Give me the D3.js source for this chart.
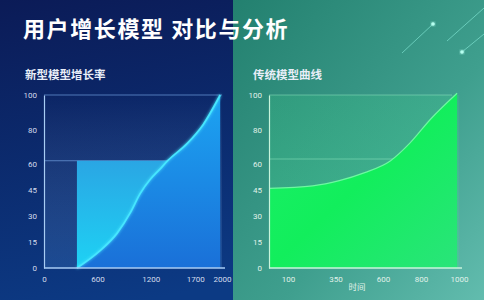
<!DOCTYPE html>
<html>
<head>
<meta charset="utf-8">
<script src="https://cdn.jsdelivr.net/npm/d3@7"></script>
<style>
  html, body { margin: 0; padding: 0; background: #0b2566; }
  svg { display: block; }
  .tick text { font-family: Roboto, "Noto Sans", sans-serif; }
</style>
</head>
<body>
<div id="chart"></div>
<script>
// ---- data ----
const title = "用户增长模型 对比与分析";
const leftSubtitle = "新型模型增长率";
const rightSubtitle = "传统模型曲线";
const rightXTitle = "时间";

const yTicks = [0, 15, 30, 45, 60, 80, 100];
const leftXTicks = [0, 600, 1200, 1700, 2000];
const rightXTicks = [100, 350, 600, 800, 1000];

const leftX = [370, 630, 820, 970, 1080, 1190, 1300, 1390, 1610, 1790, 1980];
const leftY = [0, 10, 20, 32, 43, 51, 57, 62, 72, 83, 100];
const leftBand = { x0: 370, x1: 1390, y: 62 };

const rightX = [0, 230, 370, 500, 640, 740, 850, 990];
const rightY = [46, 47.5, 50.5, 55, 62, 72, 86, 101];

const W = 484, H = 300;

const svg = d3.select("#chart").append("svg")
  .attr("width", W).attr("height", H);

const defs = svg.append("defs");

function grad(id, x1, y1, x2, y2, stops) {
  const g = defs.append("linearGradient").attr("id", id)
    .attr("x1", x1).attr("y1", y1).attr("x2", x2).attr("y2", y2);
  stops.forEach(([o, c, a]) => g.append("stop")
    .attr("offset", o).attr("stop-color", c).attr("stop-opacity", a == null ? 1 : a));
}

grad("bgLeft", 0, 0, 0.3, 1, [[0, "#0b1b57"], [1, "#0c3a84"]]);
grad("bgRight", 0, 0, 1, 1, [[0, "#23806f"], [0.6, "#3f9f8e"], [1, "#62bcae"]]);
grad("panelLeft", 0, 0, 0, 1, [[0, "#ffffff", 0.0], [1, "#5aa0e8", 0.2]]);
grad("panelRight", 0, 0, 0, 1, [[0, "#3de08a", 0.18], [1, "#3de08a", 0.3]]);
grad("areaLeft", 0, 0, 0, 1, [[0, "#1ca4f2"], [1, "#1a70d8"]]);
grad("bandLeft", 0, 0, 0, 1, [[0, "#2aa6e4"], [1, "#1ed2f4"]]);
grad("areaRight", 0, 0, 1, 1, [[0, "#1af068"], [0.5, "#12ee5c"], [1, "#2ae47a"]]);

const glow = defs.append("filter").attr("id", "glow")
  .attr("x", "-20%").attr("y", "-20%").attr("width", "140%").attr("height", "140%");
glow.append("feGaussianBlur").attr("stdDeviation", 1.6).attr("result", "b");
const fm = glow.append("feMerge");
fm.append("feMergeNode").attr("in", "b");
fm.append("feMergeNode").attr("in", "SourceGraphic");

// background
svg.append("rect").attr("width", W).attr("height", H).attr("fill", "url(#bgLeft)");
svg.append("rect").attr("x", 233).attr("width", W - 233).attr("height", H).attr("fill", "url(#bgRight)");

// decorative streaks top-right
const streaks = [
  { x1: 402, y1: 53, x2: 433, y2: 24, dot: [433, 24] },
  { x1: 447, y1: 41, x2: 484, y2: 8, dot: null },
  { x1: 462, y1: 52, x2: 484, y2: 34, dot: [462, 52] }
];
streaks.forEach(s => {
  svg.append("line").attr("x1", s.x1).attr("y1", s.y1).attr("x2", s.x2).attr("y2", s.y2)
    .attr("stroke", "#8ff5e4").attr("stroke-opacity", 0.55).attr("stroke-width", 1);
  if (s.dot) svg.append("circle").attr("cx", s.dot[0]).attr("cy", s.dot[1]).attr("r", 1.8)
    .attr("fill", "#b6fff0").attr("filter", "url(#glow)");
});

// title
svg.append("text").attr("x", 23).attr("y", 37)
  .attr("font-family", "'Noto Sans CJK SC', sans-serif").attr("font-weight", 700)
  .attr("font-size", 22).attr("letter-spacing", 1.6)
  .attr("fill", "#ffffff").text(title);

const y = d3.scaleLinear().domain([0, 100]).range([268, 95]);

function drawPanel(opts) {
  const x = d3.scaleLinear().domain(opts.domain).range(opts.range);
  const g = svg.append("g");

  svg.append("text").attr("x", opts.subX).attr("y", 79)
    .attr("font-family", "'Noto Sans CJK SC', sans-serif").attr("font-weight", 700)
    .attr("font-size", 11.5).attr("fill", "#e8eef8").text(opts.subtitle);

  g.append("rect").attr("x", opts.range[0]).attr("y", y(100))
    .attr("width", opts.range[1] - opts.range[0]).attr("height", y(0) - y(100))
    .attr("fill", opts.panelFill);

  opts.grid.forEach(v => g.append("line")
    .attr("x1", opts.range[0]).attr("x2", opts.gridEnd(v, x))
    .attr("y1", y(v)).attr("y2", y(v))
    .attr("stroke", opts.gridColor).attr("stroke-opacity", opts.gridOpacity).attr("stroke-width", 1));

  if (opts.extra) opts.extra(g, x);

  const pts = opts.xs.map((d, i) => [d, opts.ys[i]]);
  const area = d3.area().x(d => x(d[0])).y0(y(0)).y1(d => y(d[1])).curve(d3.curveMonotoneX);
  const line = d3.line().x(d => x(d[0])).y(d => y(d[1])).curve(d3.curveMonotoneX);

  g.append("path").datum(pts).attr("d", area).attr("fill", opts.areaFill);
  g.append("path").datum(pts).attr("d", line).attr("fill", "none")
    .attr("stroke", opts.lineColor).attr("stroke-width", opts.lineWidth)
    .attr("filter", opts.lineGlow ? "url(#glow)" : null);

  const ya = g.append("g").attr("transform", `translate(${opts.range[0]},0)`)
    .call(d3.axisLeft(y).tickValues(yTicks).tickSize(0).tickPadding(7));
  ya.select(".domain").attr("stroke", opts.axisColor).attr("stroke-width", 1.2);
  ya.selectAll("text").attr("fill", opts.textColor).attr("font-size", 8);

  const xa = g.append("g").attr("transform", `translate(0,${y(0)})`)
    .call(d3.axisBottom(x).tickValues(opts.ticks).tickFormat(d3.format("d"))
      .tickSize(0).tickPadding(8));
  xa.select(".domain").attr("stroke", opts.axisColor).attr("stroke-width", 1.4)
    .attr("d", `M${opts.range[0]},0H${opts.range[1] + 3}`);
  xa.selectAll("text").attr("fill", opts.textColor).attr("font-size", 8);
  return x;
}

drawPanel({
  domain: [0, 2000], range: [44, 222], ticks: leftXTicks,
  xs: leftX, ys: leftY, subtitle: leftSubtitle, subX: 25,
  panelFill: "url(#panelLeft)", grid: [100, leftBand.y],
  gridEnd: (v, x) => v === 100 ? x(2000) : x(leftBand.x1),
  gridColor: "#7fb0f0", gridOpacity: 0.6,
  extra: (g, x) => g.append("rect").attr("x", x(leftBand.x0)).attr("y", y(leftBand.y))
    .attr("width", x(leftBand.x1) - x(leftBand.x0)).attr("height", y(0) - y(leftBand.y))
    .attr("fill", "url(#bandLeft)"),
  areaFill: "url(#areaLeft)", lineColor: "#46e6ff", lineWidth: 1.8, lineGlow: true,
  axisColor: "#a8cdf4", textColor: "#d4dcec"
});

drawPanel({
  domain: [0, 1000], range: [269, 459], ticks: rightXTicks,
  xs: rightX, ys: rightY, subtitle: rightSubtitle, subX: 253,
  panelFill: "url(#panelRight)", grid: [100, 63],
  gridEnd: () => 452,
  gridColor: "#9ef0c8", gridOpacity: 0.45,
  areaFill: "url(#areaRight)", lineColor: "#6cf8a0", lineWidth: 1.2, lineGlow: false,
  axisColor: "#c8f4dc", textColor: "#e0f2ea"
});

svg.append("text").attr("x", 357).attr("y", 290).attr("text-anchor", "middle")
  .attr("font-family", "'Noto Sans CJK SC', sans-serif").attr("font-size", 8.5)
  .attr("fill", "#e0f2ea").text(rightXTitle);
</script>
</body>
</html>
